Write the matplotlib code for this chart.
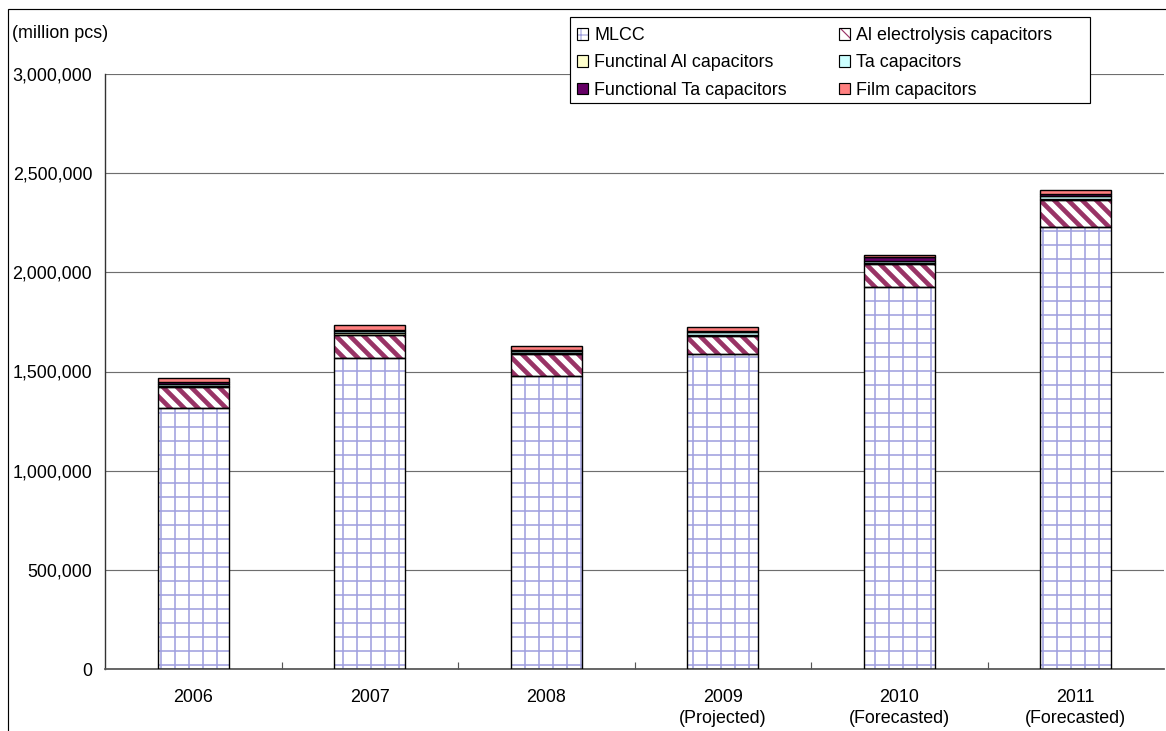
import matplotlib
matplotlib.use("Agg")
import matplotlib.pyplot as plt
from matplotlib.patches import Patch, Rectangle
from matplotlib.legend_handler import HandlerTuple
from matplotlib.ticker import FuncFormatter, FixedLocator

# Capacitor shipments by type (million pcs)
years = ["2006", "2007", "2008", "2009\n(Projected)", "2010\n(Forecasted)", "2011\n(Forecasted)"]
mlcc = [1316000, 1567000, 1477000, 1588000, 1926000, 2228000]
al_electrolysis = [104000, 117000, 110000, 91000, 116000, 137000]
functional_al = [6000, 8000, 6000, 7000, 6000, 7000]
ta = [12000, 10000, 8000, 12000, 8000, 13000]
functional_ta = [8000, 8000, 8000, 8000, 22000, 8000]
film = [20000, 24000, 20000, 18000, 9000, 22000]

series_names = ["MLCC", "Al electrolysis capacitors", "Functinal Al capacitors",
                "Ta capacitors", "Functional Ta capacitors", "Film capacitors"]
y_ticks = [0, 500000, 1000000, 1500000, 2000000, 2500000, 3000000]
unit_label = "(million pcs)"

W, H, DPI = 1166, 731, 84
plt.rcParams["font.family"] = ["Liberation Sans", "DejaVu Sans"]
FS = 15.3

fig = plt.figure(figsize=(W / DPI, H / DPI), dpi=DPI)
ax = fig.add_axes([105 / W, 62 / H, (1164 - 105) / W, (669 - 74) / H])

# style per series: (face, hatch, hatch colour, hatch line width)
styles = [
    ("white", "+", "#A3A3E0", 1.4),
    ("white", "\\\\", "#993366", 4.0),
    ("#FFFFCC", None, None, None),
    ("#CCFFFF", None, None, None),
    ("#660066", None, None, None),
    ("#FF8080", None, None, None),
]
data = [mlcc, al_electrolysis, functional_al, ta, functional_ta, film]

x = list(range(len(years)))
bar_w = 0.4
bottom = [0] * len(years)
handles = []
for vals, (face, hatch, hcol, hlw), name in zip(data, styles, series_names):
    if hatch:
        with plt.rc_context({"hatch.linewidth": hlw}):
            bars = ax.bar(x, vals, bar_w, bottom=bottom, facecolor=face,
                          edgecolor=hcol, hatch=hatch, linewidth=0, zorder=2)
            for b in bars:
                if hasattr(b, "set_hatch_linewidth"):
                    b.set_hatch_linewidth(hlw)
        ax.bar(x, vals, bar_w, bottom=bottom, fill=False,
               edgecolor="black", linewidth=1.2, zorder=3)
        with plt.rc_context({"hatch.linewidth": min(hlw, 2.0)}):
            hp = Patch(facecolor=face, edgecolor=hcol, hatch=hatch, linewidth=0)
            if hasattr(hp, "set_hatch_linewidth"):
                hp.set_hatch_linewidth(min(hlw, 2.0))
        handles.append((hp, Patch(fill=False, edgecolor="black", linewidth=1.0)))
    else:
        ax.bar(x, vals, bar_w, bottom=bottom, facecolor=face,
               edgecolor="black", linewidth=1.2, zorder=3)
        handles.append(Patch(facecolor=face, edgecolor="black", linewidth=1.0))
    bottom = [b + v for b, v in zip(bottom, vals)]

ax.set_xlim(-0.5, len(years) - 0.5)
ax.set_ylim(0, 3000000)
ax.yaxis.set_major_locator(FixedLocator(y_ticks))
ax.yaxis.set_major_formatter(FuncFormatter(lambda v, p: f"{int(v):,}"))
ax.grid(axis="y", color="#6e6e6e", linewidth=1.0, zorder=0)
ax.set_axisbelow(True)

ax.set_xticks(x)
ax.set_xticklabels(years, fontsize=FS, linespacing=1.3)
ax.set_xticks([i + 0.5 for i in range(len(years) - 1)], minor=True)
ax.tick_params(axis="x", which="major", length=0, pad=17)
ax.tick_params(axis="x", which="minor", length=6, direction="in", width=1, color="#555555")
ax.tick_params(axis="y", length=0, pad=11, labelsize=FS)

for s in ("top", "right"):
    ax.spines[s].set_visible(False)
ax.spines["left"].set_color("#333333")
ax.spines["bottom"].set_color("#555555")
ax.spines["left"].set_linewidth(1.2)
ax.spines["bottom"].set_linewidth(1.5)

fig.text(12 / W, 1 - 33 / H, unit_label, fontsize=FS, ha="left", va="center")

# legend box (white panel with black border), entries drawn on top
fig.add_artist(Rectangle((570 / W, 1 - 103 / H), 520 / W, 86 / H, transform=fig.transFigure,
                         facecolor="white", edgecolor="black", linewidth=1.0, zorder=4))

# legend filled row by row: reorder for matplotlib's column-major layout
ncol = 2
order = [i for c in range(ncol) for i in range(c, len(series_names), ncol)]
leg = fig.legend([handles[i] for i in order], [series_names[i] for i in order],
                 ncol=ncol, loc="upper left",
                 bbox_to_anchor=(571 / W, 1 - 21 / H), bbox_transform=fig.transFigure,
                 borderaxespad=0, fontsize=FS, frameon=False,
                 handlelength=0.6, handleheight=0.6,
                 handletextpad=0.35, columnspacing=2.95, labelspacing=0.57,
                 borderpad=0.35, handler_map={tuple: HandlerTuple(ndivide=1)})
leg.set_zorder(5)

# outer chart frame
fig.add_artist(Rectangle((8 / W, -0.05), 1.2, 1 - 9 / H + 0.05, transform=fig.transFigure,
                         fill=False, edgecolor="black", linewidth=1.0))

fig.savefig("out.png", dpi=DPI)
